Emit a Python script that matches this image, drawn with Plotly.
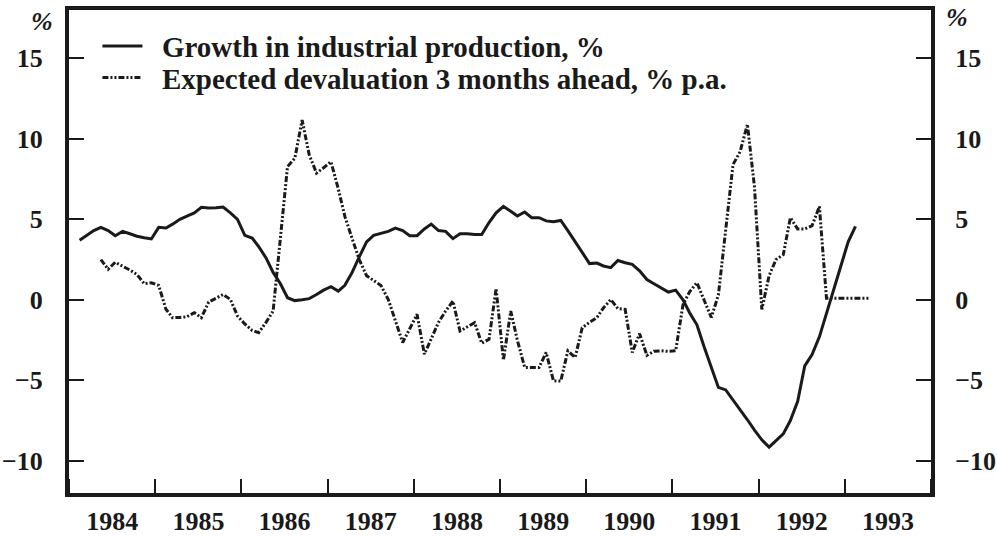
import plotly.graph_objects as go
import pandas as pd

# Growth in industrial production, % (monthly, Jan 1984 - Jan 1993)
growth_start = "1984-01-15"
growth = [3.7, 4.0, 4.3, 4.5, 4.3, 3.98, 4.25, 4.1, 3.95, 3.85, 3.78, 4.5,
          4.46, 4.7, 5.0, 5.2, 5.4, 5.75, 5.7, 5.72, 5.76, 5.4, 5.0, 4.0,
          3.84, 3.3, 2.6, 1.7, 1.0, 0.13, -0.05, 0.0, 0.07, 0.33, 0.6, 0.81,
          0.54, 0.9, 1.7, 2.66, 3.6, 4.0, 4.11, 4.25, 4.45, 4.3, 3.98, 3.98,
          4.4, 4.7, 4.3, 4.25, 3.8, 4.1, 4.1, 4.05, 4.05, 4.8, 5.4, 5.8,
          5.5, 5.2, 5.45, 5.1, 5.1, 4.9, 4.85, 4.93, 4.3, 3.6, 2.9, 2.25,
          2.28, 2.1, 2.0, 2.44, 2.3, 2.2, 1.8, 1.26, 1.0, 0.75, 0.48, 0.6,
          0.0, -0.8, -1.55, -2.9, -4.2, -5.44, -5.6, -6.2, -6.85, -7.45, -8.1, -8.7,
          -9.15, -8.75, -8.33, -7.5, -6.3, -4.1, -3.4, -2.3, -0.8, 0.7, 2.1, 3.6,
          4.56]

# Expected devaluation 3 months ahead, % p.a. (monthly, Apr 1984 - Mar 1993)
deval_start = "1984-04-15"
deval = [2.5, 1.9, 2.33, 2.1, 1.85, 1.57, 1.0, 1.06, 0.89,
         -0.59, -1.11, -1.1, -1.05, -0.8, -1.11, -0.14, 0.1, 0.33, 0.02, -1.0, -1.5,
         -1.9, -2.04, -1.4, -0.7, 3.8, 8.27, 8.79, 11.16, 9.0, 7.87, 8.2, 8.58,
         6.9, 5.18, 3.8, 2.5, 1.5, 1.2, 0.89, 0.02, -1.3, -2.65, -1.8, -0.9,
         -3.38, -2.4, -1.4, -0.7, -0.08, -1.94, -1.7, -1.42, -2.7, -2.45, 0.7, -3.75,
         -0.7, -2.5, -4.2, -4.2, -4.2, -3.27, -5.03, -5.05, -3.17, -3.58, -1.73, -1.4,
         -1.11, -0.5, 0.02, -0.55, -0.6, -3.27, -2.1, -3.45, -3.2, -3.17, -3.2, -3.17,
         -0.3, 0.5, 1.06, 0.0, -1.1, 0.3, 4.3, 8.4, 9.2, 10.9, 7.0, -0.6,
         1.5, 2.5, 2.8, 5.1, 4.4, 4.4, 4.6, 5.8, 0.1, 0.1, 0.1, 0.1,
         0.1, 0.1, 0.1]

y_ticks = [-10, -5, 0, 5, 10, 15]
series_names = ["Growth in industrial production, %",
                "Expected devaluation 3 months ahead, % p.a."]

growth_dates = pd.date_range(growth_start, periods=len(growth), freq="MS") + pd.Timedelta(days=14)
deval_dates = pd.date_range(deval_start, periods=len(deval), freq="MS") + pd.Timedelta(days=14)

FONT = "Liberation Serif, Times New Roman, serif"
INK = "#1a1a1a"
GAP = "\u00a0\u00a0"

fig = go.Figure()
fig.add_trace(go.Scatter(
    x=growth_dates, y=growth, mode="lines",
    name=GAP + "<b>" + series_names[0] + "</b>",
    line=dict(color=INK, width=3), legend="legend",
))
fig.add_trace(go.Scatter(
    x=deval_dates, y=deval, mode="lines", yaxis="y2",
    name=GAP + "<b>" + series_names[1] + "</b>",
    line=dict(color=INK, width=3, dash="6px,2px,2px,2px,2px,2px"),
    legend="legend2",
))

axis_font = dict(family=FONT, size=26, color=INK, weight="bold")

fig.update_layout(
    width=997, height=537,
    margin=dict(l=69, r=66, t=10, b=44, autoexpand=False),
    paper_bgcolor="white", plot_bgcolor="white",
    font=dict(family=FONT, color=INK),
    xaxis=dict(
        type="date", range=["1984-01-01", "1994-01-01"], automargin=False,
        tick0="1984-01-01", dtick="M12", tickformat="%Y", ticklabelmode="period",
        ticks="inside", ticklen=14, tickwidth=2, tickcolor=INK,
        showline=True, linewidth=4, linecolor=INK, mirror=True,
        showgrid=False, zeroline=False, tickfont=axis_font,
        ticklabelstandoff=2,
    ),
    yaxis=dict(
        range=[-12, 18], tickvals=y_ticks, automargin=False,
        ticks="inside", ticklen=15, tickwidth=2, tickcolor=INK,
        showline=True, linewidth=4, linecolor=INK, mirror=True,
        showgrid=False, zeroline=False, tickfont=axis_font,
        ticklabelstandoff=17,
    ),
    yaxis2=dict(
        range=[-12, 18], tickvals=y_ticks, overlaying="y", side="right", automargin=False,
        ticks="inside", ticklen=15, tickwidth=2, tickcolor=INK,
        showline=True, linewidth=4, linecolor=INK,
        showgrid=False, zeroline=False, tickfont=axis_font,
        ticklabelstandoff=15,
    ),
    legend=dict(
        x=0.033, y=0.925, xanchor="left", yanchor="middle",
        bgcolor="rgba(0,0,0,0)", borderwidth=0,
        font=dict(family=FONT, size=29, color=INK), itemwidth=40,
    ),
    legend2=dict(
        x=0.033, y=0.860, xanchor="left", yanchor="middle",
        bgcolor="rgba(0,0,0,0)", borderwidth=0,
        font=dict(family=FONT, size=29, color=INK), itemwidth=40,
    ),
    showlegend=True,
)

pw, ph = 997 - 69 - 66, 537 - 10 - 44
for px, py in [(42, 21), (957, 18)]:
    fig.add_annotation(text="<b><i>%</i></b>", x=(px - 69) / pw, y=(537 - 44 - py) / ph,
                       xref="paper", yref="paper", showarrow=False,
                       xanchor="center", yanchor="middle",
                       font=dict(family=FONT, size=26, color=INK))

fig.write_html("out.html", config={"displayModeBar": False},
               post_script="document.body.style.margin='0';document.body.style.overflow='hidden';")
